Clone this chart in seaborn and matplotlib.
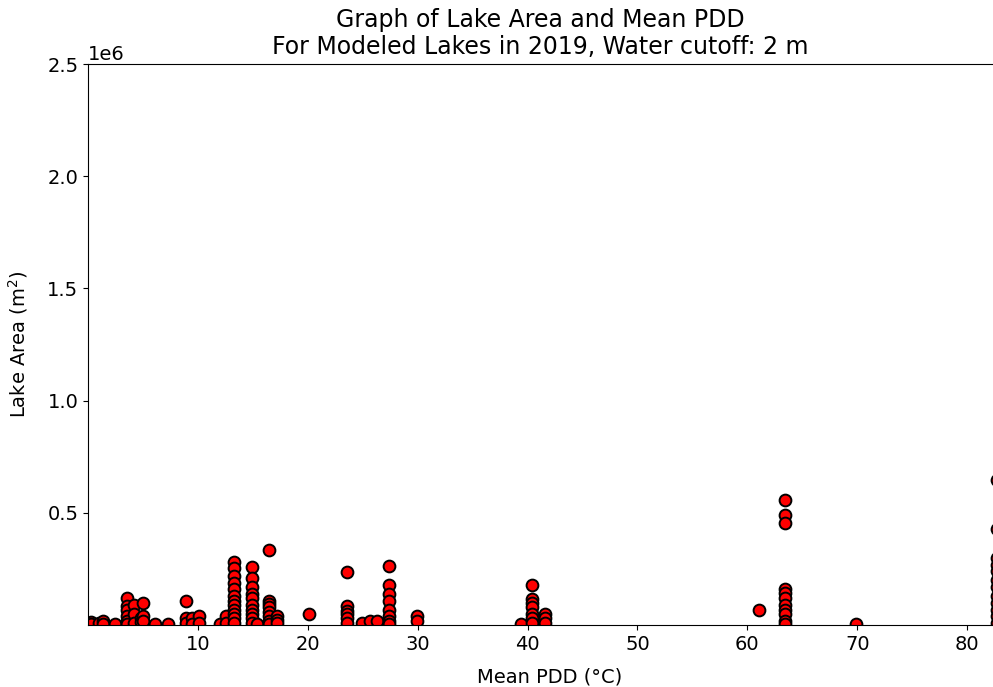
import pandas as pd
import matplotlib
matplotlib.use("Agg")
import matplotlib.pyplot as plt
import seaborn as sns

# lake columns: (mean PDD, list of lake areas in m^2)
pdd_values = [0.3, 1.0, 1.4, 2.5, 3.6, 4.2, 4.8, 5.0, 6.1, 7.3, 8.9, 9.5, 10.1,
              12.0, 12.6, 13.3, 14.9, 15.4, 16.5, 17.2, 20.1, 23.6, 24.9, 25.7,
              26.3, 27.4, 29.9, 39.4, 40.4, 41.6, 61.1, 63.4, 69.9, 82.75]
area_values = [
    [15e3, 5e3],
    [10e3],
    [20e3, 5e3],
    [5e3],
    [120e3, 85e3, 70e3, 40e3, 20e3, 5e3],
    [90e3, 50e3, 10e3],
    [30e3, 15e3],
    [100e3, 40e3, 20e3],
    [5e3],
    [5e3],
    [110e3, 30e3, 10e3],
    [30e3, 5e3],
    [40e3, 10e3],
    [5e3],
    [40e3, 10e3],
    [280e3, 255e3, 220e3, 190e3, 160e3, 130e3, 110e3, 90e3, 70e3, 50e3, 30e3, 10e3],
    [260e3, 210e3, 170e3, 140e3, 120e3, 90e3, 70e3, 50e3, 30e3, 10e3],
    [5e3],
    [335e3, 110e3, 95e3, 80e3, 60e3, 40e3, 20e3, 5e3],
    [40e3, 25e3, 10e3],
    [50e3],
    [235e3, 85e3, 65e3, 50e3, 30e3, 10e3],
    [10e3],
    [20e3],
    [20e3],
    [265e3, 180e3, 140e3, 110e3, 70e3, 40e3, 20e3, 5e3],
    [40e3, 20e3],
    [5e3],
    [180e3, 115e3, 100e3, 80e3, 50e3, 30e3, 10e3],
    [50e3, 30e3, 10e3],
    [67e3],
    [556e3, 490e3, 455e3, 160e3, 145e3, 120e3, 90e3, 70e3, 50e3, 20e3, 5e3],
    [5e3],
    [645e3, 430e3, 300e3, 270e3, 240e3, 200e3, 170e3, 130e3, 100e3, 70e3, 40e3, 10e3],
]

rows = []
for p, areas in zip(pdd_values, area_values):
    for a in areas:
        rows.append({"pdd": p, "area": a})
df = pd.DataFrame(rows)

plt.rcParams["font.size"] = 14
fig = plt.figure(figsize=(9.93, 6.87), dpi=100)
# axes runs a little past the right edge of the picture, as in the reference
ax = fig.add_axes([88 / 993, 62 / 687, 84.0 * 10.99 / 993, 561 / 687])

sns.scatterplot(data=df, x="pdd", y="area", color="red", edgecolor="black",
                linewidth=1.4, s=72, ax=ax)

# lower limits sit just above zero, so no 0 tick labels are drawn
ax.set_xlim(0.01, 84.0)
ax.set_ylim(1e3, 2.5e6)
ax.set_xticks([10, 20, 30, 40, 50, 60, 70, 80])
ax.set_yticks([0.5e6, 1.0e6, 1.5e6, 2.0e6, 2.5e6])
ax.set_xlabel("Mean PDD (°C)", labelpad=10)
ax.set_ylabel("Lake Area (m$^2$)", labelpad=12)
fig.text(540 / 993, 1 - 8 / 687,
         "Graph of Lake Area and Mean PDD\nFor Modeled Lakes in 2019, Water cutoff: 2 m",
         ha="center", va="top", fontsize=17, linespacing=1.15)

plt.savefig("out.png", dpi=100)
